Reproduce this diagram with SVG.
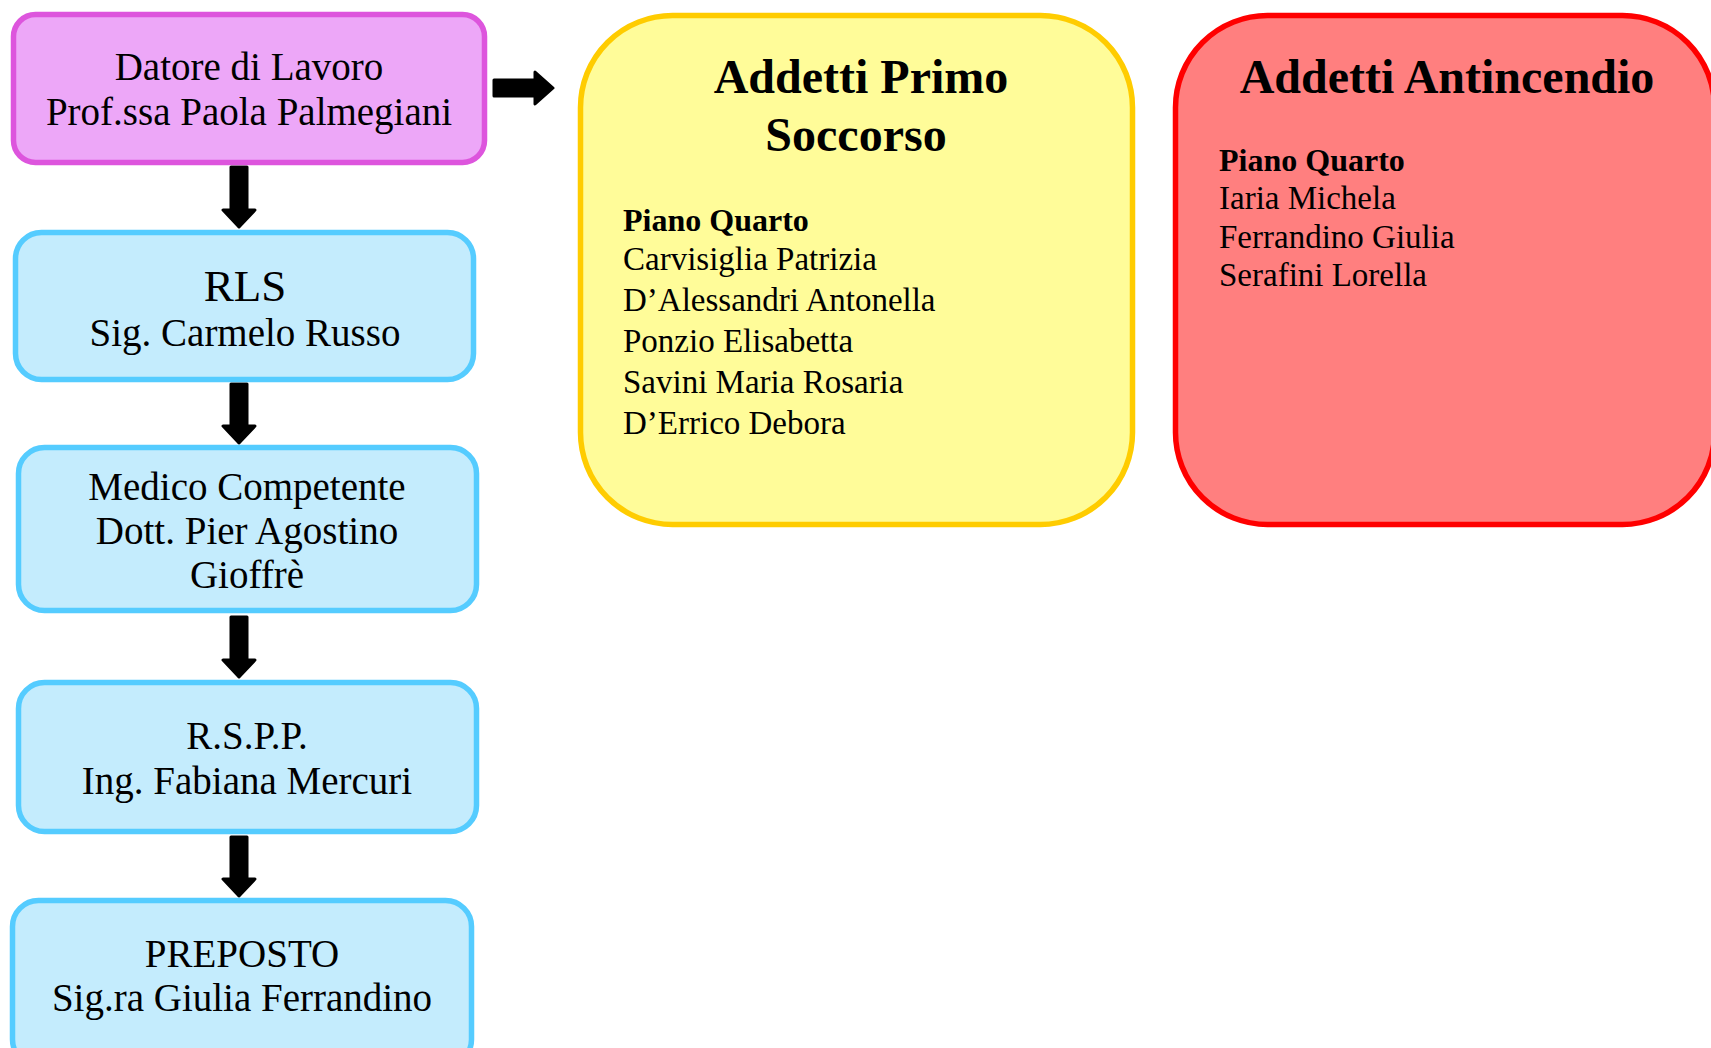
<svg xmlns="http://www.w3.org/2000/svg" width="1711" height="1048" viewBox="0 0 1711 1048">
<style>
.t{font-family:"Liberation Serif","Times New Roman",serif;fill:#000}
.body{font-size:39px;text-anchor:middle}
.big{font-size:45px;text-anchor:middle}
.title{font-size:48px;font-weight:bold;text-anchor:middle}
.sub{font-size:32px;font-weight:bold}
.name{font-size:33px}
.pink{fill:#EDA7F8;stroke:#DD55DD;stroke-width:5.5}
.blue{fill:#C4ECFD;stroke:#55CCFF;stroke-width:5.5}
.yellow{fill:#FFFC99;stroke:#FFCC00;stroke-width:5.5}
.red{fill:#FF7F7F;stroke:#FF0000;stroke-width:5.5}
.arrow{fill:#000;stroke:#000;stroke-width:3;stroke-linejoin:round}
</style>
<rect width="1711" height="1048" fill="#fff"/>
<g id="connectors">
<path class="arrow" d="M494,80 L535,80 L535,72 L553,88 L535,104 L535,96 L494,96 Z"/>
<path class="arrow" d="M231,167 L247,167 L247,210 L255,210 L239,227 L223,210 L231,210 Z"/>
<path class="arrow" d="M231,384 L247,384 L247,426 L255,426 L239,443 L223,426 L231,426 Z"/>
<path class="arrow" d="M231,617 L247,617 L247,660 L255,660 L239,677 L223,660 L231,660 Z"/>
<path class="arrow" d="M231,837 L247,837 L247,879 L255,879 L239,896 L223,879 L231,879 Z"/>
</g>
<g id="datore">
<rect class="pink" x="13.5" y="14.5" width="471" height="148" rx="22"/>
<text class="t body" x="249" y="80">Datore di Lavoro</text>
<text class="t body" x="249" y="125">Prof.ssa Paola Palmegiani</text>
</g>
<g id="rls">
<rect class="blue" x="15.5" y="232.5" width="458" height="147" rx="26"/>
<text class="t big" x="245" y="301">RLS</text>
<text class="t body" x="245" y="346">Sig. Carmelo Russo</text>
</g>
<g id="medico">
<rect class="blue" x="18.5" y="447.5" width="458" height="163" rx="26"/>
<text class="t body" x="247" y="500">Medico Competente</text>
<text class="t body" x="247" y="544">Dott. Pier Agostino</text>
<text class="t body" x="247" y="588">Gioffrè</text>
</g>
<g id="rspp">
<rect class="blue" x="18.5" y="682.5" width="458" height="149" rx="26"/>
<text class="t body" x="247" y="749">R.S.P.P.</text>
<text class="t body" x="247" y="794">Ing. Fabiana Mercuri</text>
</g>
<g id="preposto">
<rect class="blue" x="12.5" y="900.5" width="459" height="165" rx="26"/>
<text class="t body" x="242" y="967">PREPOSTO</text>
<text class="t body" x="242" y="1011">Sig.ra Giulia Ferrandino</text>
</g>
<g id="primo-soccorso">
<rect class="yellow" x="580.5" y="15.5" width="552" height="509" rx="92"/>
<text class="t title" x="861" y="93">Addetti Primo</text>
<text class="t title" x="856" y="151">Soccorso</text>
<text class="t sub" x="623" y="231">Piano Quarto</text>
<text class="t name" x="623" y="270">Carvisiglia Patrizia</text>
<text class="t name" x="623" y="311">D’Alessandri Antonella</text>
<text class="t name" x="623" y="352">Ponzio Elisabetta</text>
<text class="t name" x="623" y="393">Savini Maria Rosaria</text>
<text class="t name" x="623" y="434">D’Errico Debora</text>
</g>
<g id="antincendio">
<rect class="red" x="1175.5" y="15.5" width="539" height="509" rx="92"/>
<text class="t title" x="1447" y="93">Addetti Antincendio</text>
<text class="t sub" x="1219" y="171">Piano Quarto</text>
<text class="t name" x="1219" y="209">Iaria Michela</text>
<text class="t name" x="1219" y="248">Ferrandino Giulia</text>
<text class="t name" x="1219" y="286">Serafini Lorella</text>
</g>
</svg>
